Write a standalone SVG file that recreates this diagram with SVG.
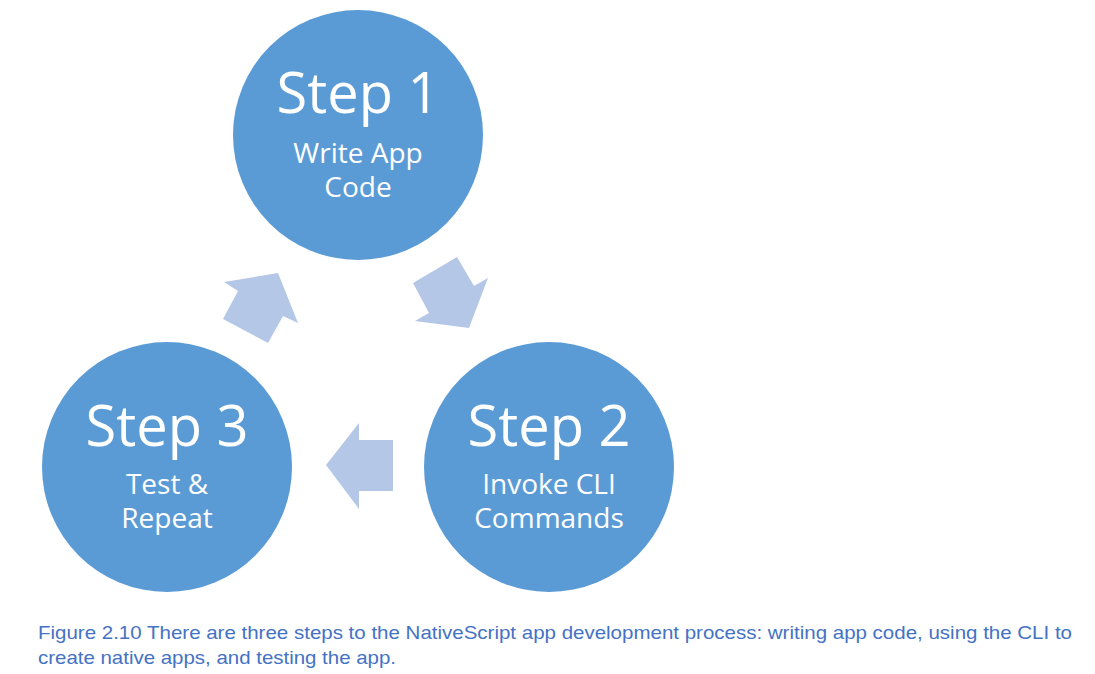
<svg xmlns="http://www.w3.org/2000/svg" width="1095" height="674" viewBox="0 0 1095 674">
<style>
.c{fill:#5B9BD5}
.a{fill:#B4C7E7}
.t{font-family:"Open Sans","Noto Sans",sans-serif;fill:#fff;text-anchor:middle}
.big{font-size:56px}
.sm{font-size:28px}
.cap{font-family:"Liberation Sans",Arial,sans-serif;font-size:18.5px;fill:#4472C4}
</style>
<rect width="1095" height="674" fill="#fff"/>
<g id="connectors">
<polygon class="a" points="278,273 298,323 283,316 268,343 223,319 238,291 224,282"/>
<polygon class="a" points="469,328 415,321 429,313 413,283 457,257 474,286 488,278"/>
<polygon class="a" points="393,440 359,440 359,423 326,465 359,509 359,491 393,491"/>
</g>
<g id="step1">
<circle class="c" cx="358" cy="135" r="125"/>
<text class="t big" x="358" y="113">Step 1</text>
<text class="t sm" x="358" y="163">Write App</text>
<text class="t sm" x="358" y="197">Code</text>
</g>
<g id="step2">
<circle class="c" cx="549" cy="467" r="125"/>
<text class="t big" x="549" y="446">Step 2</text>
<text class="t sm" x="549" y="494">Invoke CLI</text>
<text class="t sm" x="549" y="528">Commands</text>
</g>
<g id="step3">
<circle class="c" cx="167" cy="467" r="125"/>
<text class="t big" x="167" y="446">Step 3</text>
<text class="t sm" x="167" y="494">Test &amp;</text>
<text class="t sm" x="167" y="528">Repeat</text>
</g>
<g id="caption">
<text class="cap" x="38" y="639" textLength="1034" lengthAdjust="spacingAndGlyphs">Figure 2.10 There are three steps to the NativeScript app development process: writing app code, using the CLI to</text>
<text class="cap" x="38" y="664" textLength="358" lengthAdjust="spacingAndGlyphs">create native apps, and testing the app.</text>
</g>
</svg>
